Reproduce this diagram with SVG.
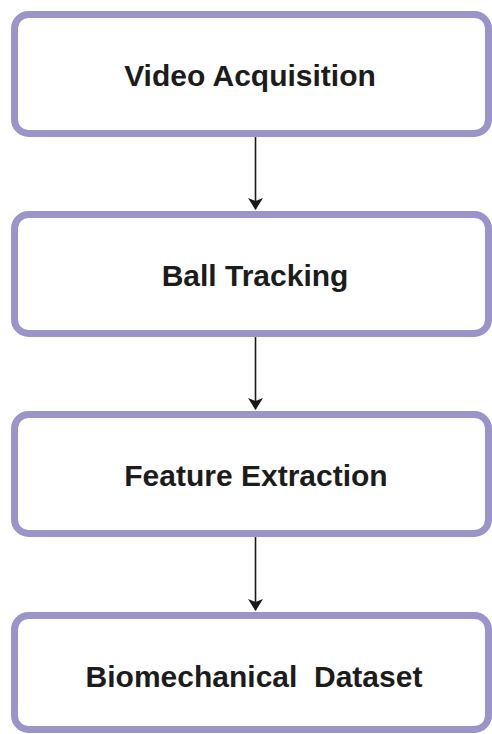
<svg xmlns="http://www.w3.org/2000/svg" width="492" height="734" viewBox="0 0 492 734">
  <style>
    .box { fill: #ffffff; stroke: #9b94c9; stroke-width: 7; }
    .label { font-family: "Liberation Sans", Arial, sans-serif; font-weight: bold; font-size: 30px; fill: #1c1c1c; text-anchor: middle; }
    .edge { stroke: #1a1a1a; stroke-width: 1.6; fill: none; }
    .head { fill: #1a1a1a; }
  </style>
  <defs>
    <!-- notched arrowhead, tip at (0,0) pointing down -->
    <path id="head" class="head" d="M-7.5,-12 L0,-9 L7.5,-12 L0,0 Z"/>
  </defs>
  <rect width="492" height="734" fill="#ffffff"/>

  <g id="connectors">
    <line class="edge" x1="255.5" y1="137" x2="255.5" y2="209"/>
    <use href="#head" x="255.5" y="210"/>
    <line class="edge" x1="255.5" y1="337" x2="255.5" y2="409"/>
    <use href="#head" x="255.5" y="410"/>
    <line class="edge" x1="255.5" y1="537" x2="255.5" y2="610"/>
    <use href="#head" x="255.5" y="611"/>
  </g>

  <g id="video-acquisition">
    <rect class="box" x="14.5" y="14.5" width="474" height="119" rx="14"/>
    <text class="label" x="250" y="86">Video Acquisition</text>
  </g>

  <g id="ball-tracking">
    <rect class="box" x="14.5" y="214.5" width="474" height="119" rx="14"/>
    <text class="label" x="255" y="286">Ball Tracking</text>
  </g>

  <g id="feature-extraction">
    <rect class="box" x="14.5" y="414.5" width="474" height="119" rx="14"/>
    <text class="label" x="256" y="486">Feature Extraction</text>
  </g>

  <g id="biomechanical-dataset">
    <rect class="box" x="14.5" y="615.5" width="474" height="114" rx="14"/>
    <text class="label" x="254" y="687" xml:space="preserve">Biomechanical  Dataset</text>
  </g>
</svg>
